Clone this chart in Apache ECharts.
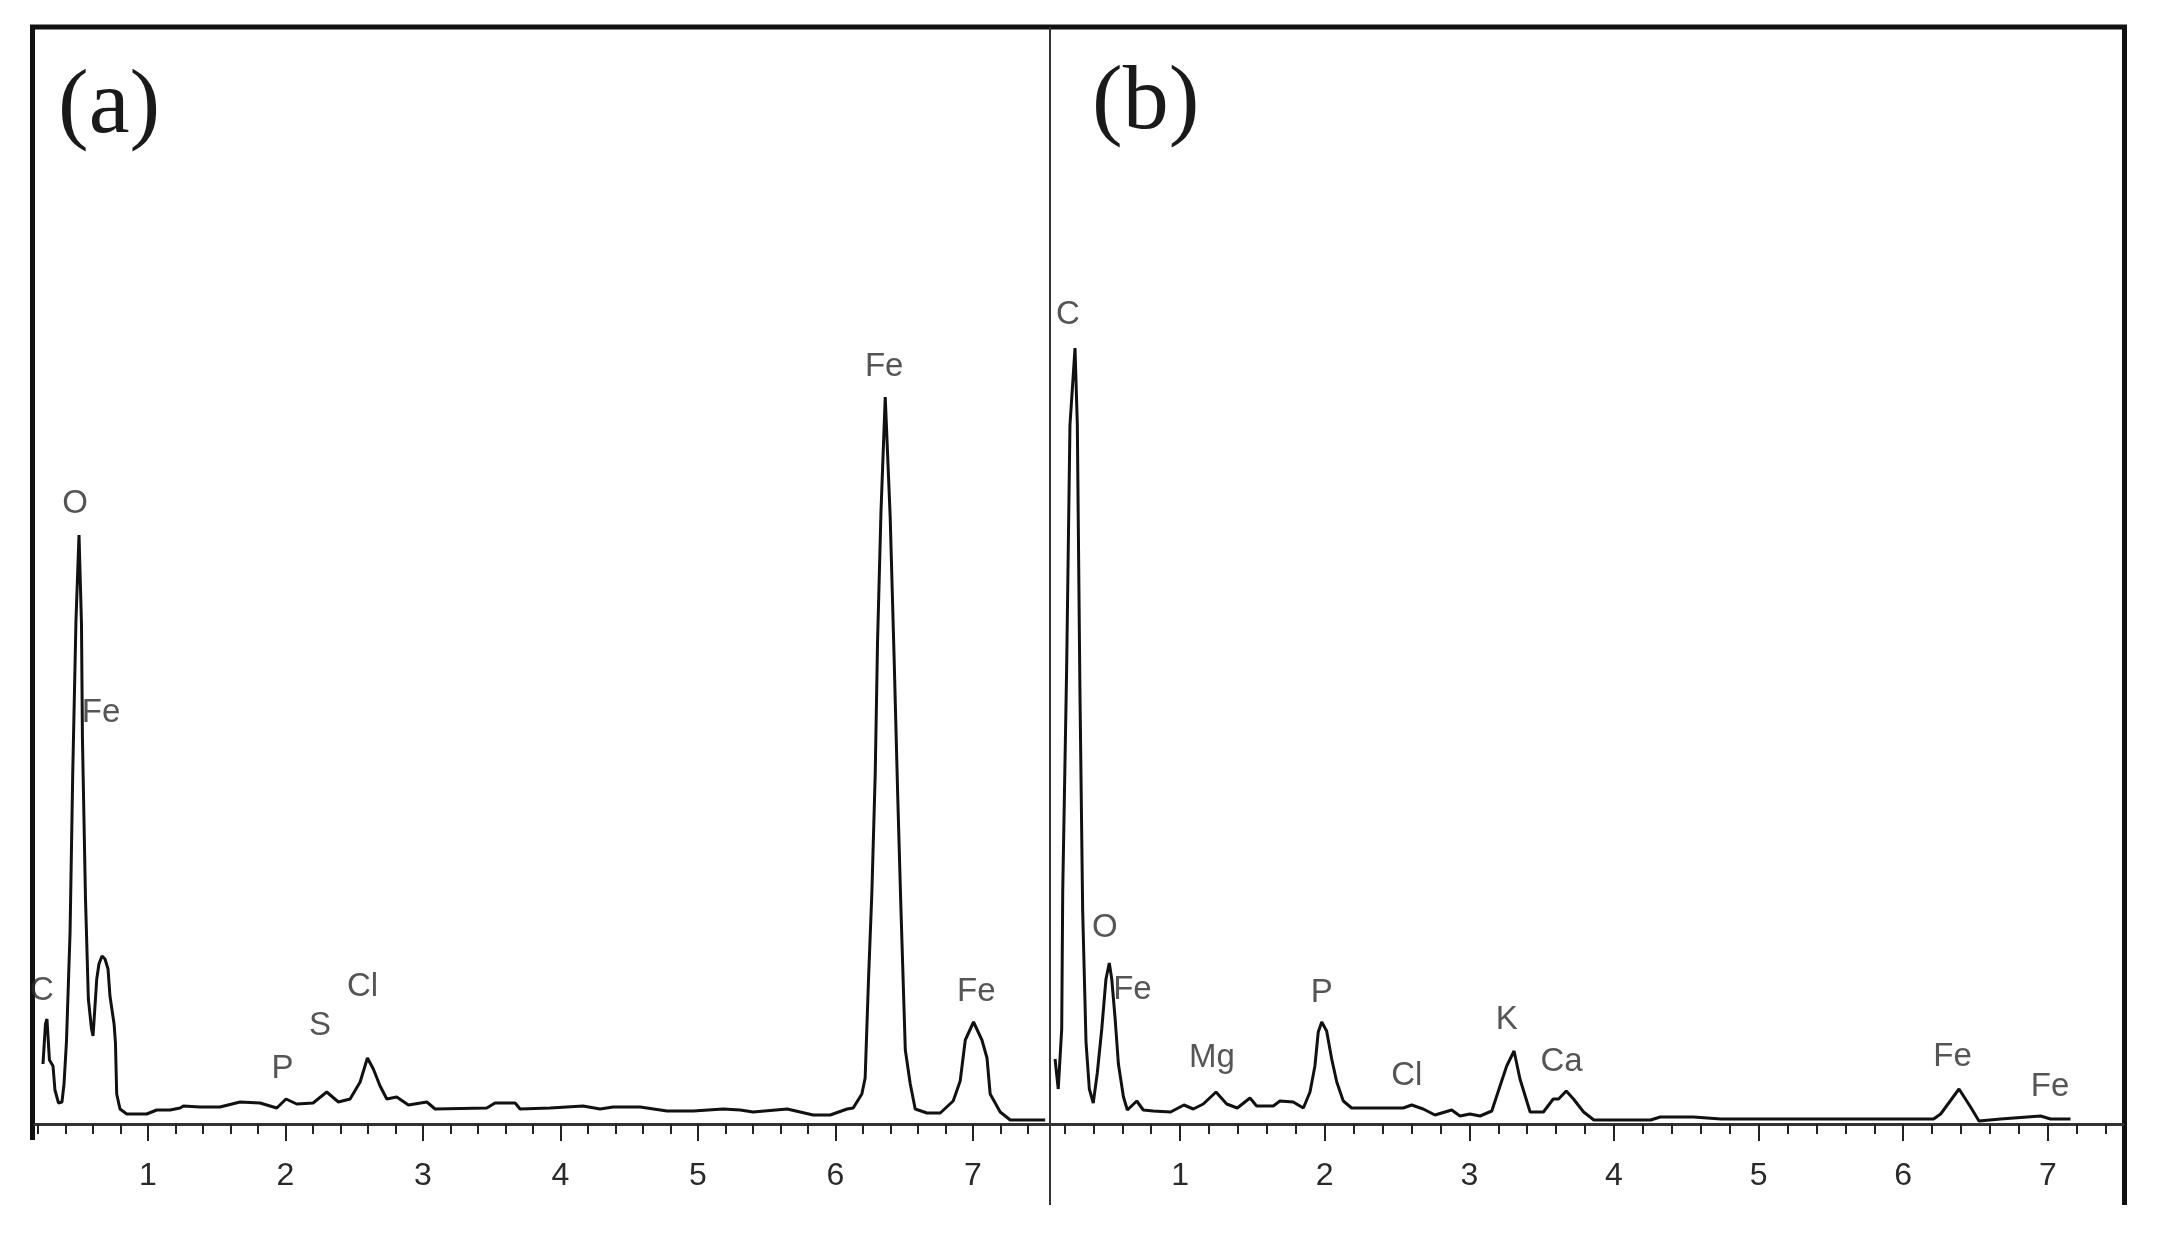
<!DOCTYPE html>
<html><head><meta charset="utf-8">
<script src="https://cdn.jsdelivr.net/npm/echarts@6/dist/echarts.min.js"></script>
<style>html,body{margin:0;padding:0;background:#fff}#c{width:2169px;height:1248px}</style>
</head><body><div id="c"></div>
<script>
// ---- Panel (a) spectrum: energy (keV) and counts (arbitrary units)
const energyA = [0.238,0.256,0.267,0.285,0.311,0.325,0.351,0.376,0.391,0.409,0.435,0.454,0.478,0.500,0.518,0.525,0.547,0.568,0.591,0.602,0.629,0.645,0.667,0.689,0.711,0.725,0.755,0.765,0.774,0.798,0.847,0.992,1.065,1.162,1.235,1.259,1.38,1.525,1.671,1.816,1.938,2.005,2.083,2.202,2.301,2.386,2.471,2.544,2.597,2.640,2.689,2.738,2.810,2.895,3.029,3.089,3.465,3.525,3.671,3.707,3.925,4.165,4.289,4.384,4.58,4.776,4.966,5.184,5.307,5.402,5.649,5.838,5.962,6.085,6.129,6.192,6.216,6.24,6.265,6.289,6.306,6.331,6.362,6.398,6.427,6.452,6.476,6.508,6.544,6.58,6.665,6.762,6.856,6.907,6.944,7.004,7.065,7.102,7.125,7.198,7.271,7.525];
const countsA = [60,100,105,64,58,34,21,22,40,83,192,348,504,589,500,385,226,125,95,88,145,160,168,165,155,128,100,81,30,15,10,10,14,14,16,18,17,17,22,21,16,25,20,21,32,22,25,42,66,55,38,25,27,19,22,15,16,21,21,15,16,18,15,17,17,13,13,15,14,12,15,9,9,15,16,30,46,143,232,349,482,612,727,607,464,332,216,74,40,15,11,11,23,43,84,102,84,66,30,12,4,4];

// ---- Panel (b) spectrum
const energyB = [0.135,0.157,0.181,0.188,0.215,0.238,0.273,0.289,0.307,0.326,0.349,0.372,0.399,0.427,0.458,0.487,0.51,0.527,0.55,0.573,0.608,0.635,0.70,0.745,0.814,0.934,1.026,1.091,1.16,1.248,1.322,1.395,1.483,1.529,1.644,1.69,1.782,1.852,1.898,1.932,1.955,1.979,2.013,2.048,2.083,2.128,2.186,2.543,2.601,2.681,2.762,2.878,2.935,3.004,3.074,3.155,3.212,3.258,3.309,3.35,3.42,3.512,3.58,3.617,3.67,3.72,3.79,3.861,4.253,4.32,4.55,4.74,5.64,6.21,6.259,6.386,6.466,6.524,6.674,6.95,7.019,7.157];
const countsB = [65,35,95,233,455,699,776,699,433,213,82,35,21,51,95,145,161,145,106,60,27,14,23,14,13,12,19,15,20,32,20,16,26,18,18,23,22,16,32,58,92,102,93,65,42,23,16,16,19,15,9,14,8,10,8,13,38,58,73,45,12,12,25,25,33,25,12,4,4,7,7,5,5,5,10,35,17,3,5,8,5,5];

// ---- Peak annotations (element, energy, label height)
const peakNamesA = ['C','O','Fe','P','S','Cl','Fe','Fe'];
const peakEnergyA = [0.231,0.471,0.66,1.98,2.253,2.562,6.354,7.024];
const peakHeightA = [133,620,411,55,98,137,757,132];

const peakNamesB = ['C','O','Fe','Mg','P','Cl','K','Ca','Fe','Fe'];
const peakEnergyB = [0.2245,0.48,0.67,1.22,1.979,2.567,3.258,3.638,6.341,7.016];
const peakHeightB = [809,196,134,66,131,48,104,62,67,37];

// ---- Axis ticks
const majorTicks = [1,2,3,4,5,6,7];
const minorTicks = [];
for (let i = 1; i <= 37; i++) minorTicks.push(Math.round(i * 2) / 10);

const panelTitles = ['(a)', '(b)'];

const zip = (xs, ys) => xs.map((x, i) => [x, ys[i]]);
const lab = (names, es, hs) => names.map((n, i) => ({ name: n, value: [es[i], hs[i]] }));

const chart = echarts.init(document.getElementById('c'), null, { renderer: 'canvas' });

const mainX = (grid, min, max) => ({
  gridIndex: grid, type: 'value', min: min, max: max, position: 'bottom',
  axisLine: { show: true, onZero: false, lineStyle: { color: '#333', width: 3 } },
  axisTick: { show: true, customValues: majorTicks, length: 17, lineStyle: { color: '#222', width: 2 } },
  axisLabel: { show: true, customValues: majorTicks, margin: 36, fontSize: 32, color: '#2a2a2a', fontFamily: 'Liberation Sans' },
  splitLine: { show: false }
});
const minorX = (grid, min, max) => ({
  gridIndex: grid, type: 'value', min: min, max: max, position: 'bottom', offset: 0,
  axisLine: { show: false, onZero: false },
  axisTick: { show: true, customValues: minorTicks, length: 10, lineStyle: { color: '#222', width: 2 } },
  axisLabel: { show: false },
  splitLine: { show: false }
});

const labelStyle = {
  show: true, position: 'inside', formatter: '{b}',
  fontSize: 33, color: '#2a2a2a', fontFamily: 'Liberation Sans'
};

chart.setOption({
  animation: false,
  backgroundColor: '#fff',
  title: [
    { text: panelTitles[0], left: 58, top: 62, padding: 0,
      textStyle: { fontFamily: 'Liberation Serif', fontSize: 92, fontWeight: 'normal', color: '#1a1a1a' } },
    { text: panelTitles[1], left: 1092, top: 58, padding: 0,
      textStyle: { fontFamily: 'Liberation Serif', fontSize: 92, fontWeight: 'normal', color: '#1a1a1a' } }
  ],
  grid: [
    { left: 35, right: 1119, top: 25, bottom: 124 },
    { left: 1050, right: 46, top: 25, bottom: 124 }
  ],
  xAxis: [
    mainX(0, 0.18, 7.56), minorX(0, 0.18, 7.56),
    mainX(1, 0.1, 7.52), minorX(1, 0.1, 7.52)
  ],
  yAxis: [
    { gridIndex: 0, type: 'value', min: 0, max: 1099, show: false },
    { gridIndex: 1, type: 'value', min: 0, max: 1099, show: false }
  ],
  graphic: [
    { type: 'line', silent: true, shape: { x1: 30, y1: 27, x2: 2127, y2: 27 }, style: { stroke: '#111', lineWidth: 5 } },
    { type: 'line', silent: true, shape: { x1: 32.5, y1: 25, x2: 32.5, y2: 1140 }, style: { stroke: '#111', lineWidth: 5 } },
    { type: 'line', silent: true, shape: { x1: 1050, y1: 27, x2: 1050, y2: 1205 }, style: { stroke: '#333', lineWidth: 2 } },
    { type: 'line', silent: true, shape: { x1: 2124.5, y1: 25, x2: 2124.5, y2: 1205 }, style: { stroke: '#111', lineWidth: 5 } }
  ],
  series: [
    { type: 'line', xAxisIndex: 0, yAxisIndex: 0, data: zip(energyA, countsA), showSymbol: false,
      lineStyle: { color: '#111', width: 3 }, z: 3 },
    { type: 'line', xAxisIndex: 2, yAxisIndex: 1, data: zip(energyB, countsB), showSymbol: false,
      lineStyle: { color: '#111', width: 3 }, z: 3 },
    { type: 'scatter', xAxisIndex: 0, yAxisIndex: 0, data: lab(peakNamesA, peakEnergyA, peakHeightA),
      symbolSize: 1, itemStyle: { color: 'rgba(0,0,0,0)' }, label: labelStyle, silent: true, z: 4 },
    { type: 'scatter', xAxisIndex: 2, yAxisIndex: 1, data: lab(peakNamesB, peakEnergyB, peakHeightB),
      symbolSize: 1, itemStyle: { color: 'rgba(0,0,0,0)' }, label: labelStyle, silent: true, z: 4 }
  ]
});
</script>
</body></html>
